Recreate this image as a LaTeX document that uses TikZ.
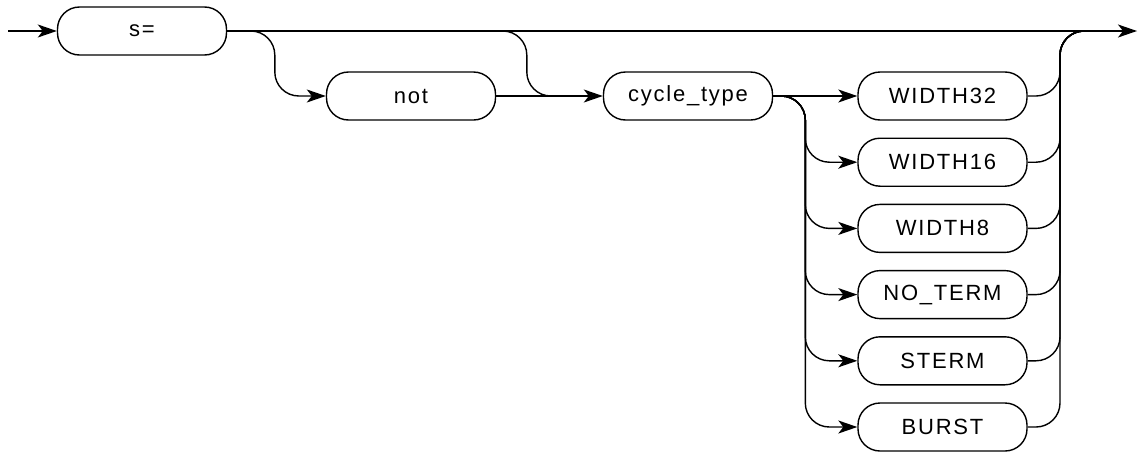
\documentclass[tikz,border=0pt]{standalone}
\usepackage{fontspec}
\setmainfont{Liberation Sans}[LetterSpace=8]
\usetikzlibrary{arrows.meta}

\begin{document}
\begin{tikzpicture}[x=1pt,y=-1pt,
  term/.style={draw, line width=1.4pt, rounded corners=22pt,
    minimum width=169pt, minimum height=48pt, inner sep=0pt,
    font=\fontsize{22}{24}\selectfont},
  rail/.style={line width=1.4pt, rounded corners=24pt},
  arr/.style={-{Stealth[length=19pt,width=13pt,inset=5pt]}}]
\useasboundingbox (0,0) rectangle (1143,453);

% terminals
\node[term] (s)   at (142,31) {s=};
\node[term] (not) at (411,96) {not};
\node[term] (ct)  at (688,96) {cycle\_type};
\foreach \n/\t [count=\i from 0] in
  {w32/WIDTH32, w16/WIDTH16, w8/WIDTH8, noterm/NO\_TERM, sterm/STERM, burst/BURST}
  \node[term] (\n) at (942.5,96+66.2*\i) {\t};

\coordinate (start) at (8,31);
\coordinate (end)   at (1137,31);
\coordinate (join)  at (1060,31);

% main rail
\draw[rail,arr] (start) -- (s.west);
\draw[rail,arr] (s.east) -- (end);

% optional "not"
\draw[rail,arr] (s.east) -| ([xshift=-51pt]not.west) -- (not.west);
\draw[rail,arr] (not.east) -- (ct.west);
\draw[rail] (s.east) -| ([xshift=-76pt]ct.west) -- ([xshift=-40pt]ct.west);

% cycle type alternatives
\draw[rail,arr] (ct.east) -- (w32.west);
\foreach \n in {w16,w8,noterm,sterm,burst}
  \draw[rail,arr] (ct.east) -| ([xshift=-52pt]\n.west) -- (\n.west);

% back to the main rail
\foreach \n in {w32,w16,w8,noterm,sterm,burst}
  \draw[rail] (\n.east) -| (join) -- ([xshift=40pt]join);
\end{tikzpicture}
\end{document}
